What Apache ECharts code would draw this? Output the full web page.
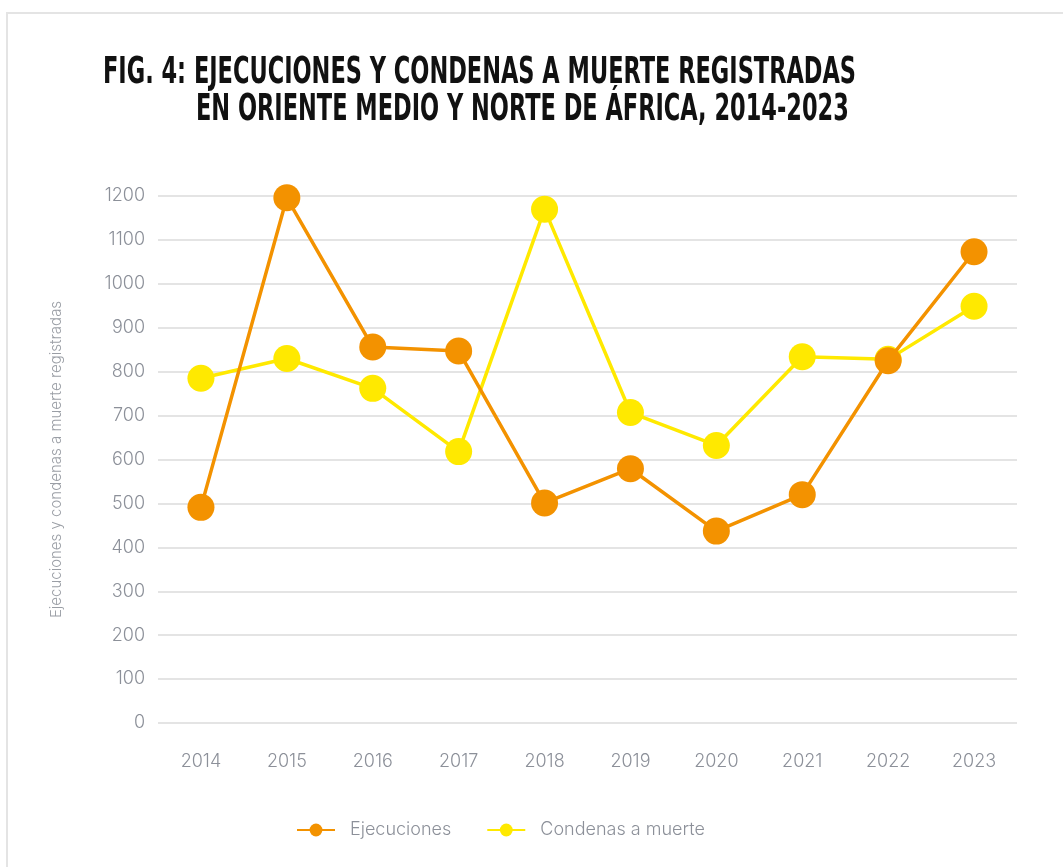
<!DOCTYPE html>
<html>
<head>
<meta charset="utf-8">
<script src="https://cdn.jsdelivr.net/npm/echarts@6/dist/echarts.min.js"></script>
<style>
  html, body { margin: 0; padding: 0; background: #fff; }
  #frame { position: absolute; left: 6px; top: 12px; width: 1100px; height: 900px; border: 2px solid #e4e4e4; }
  #chart { position: absolute; left: 0; top: 0; width: 1063px; height: 867px; }
</style>
</head>
<body>
<div id="frame"></div>
<div id="chart"></div>
<script>
// datos
const years = ['2014','2015','2016','2017','2018','2019','2020','2021','2022','2023']
const ejecuciones = [491, 1196, 856, 847, 501, 579, 437, 520, 825, 1073]
const condenas = [785, 830, 762, 618, 1170, 707, 632, 834, 828, 949]
const titulo1 = 'FIG. 4: EJECUCIONES Y CONDENAS A MUERTE REGISTRADAS'
const titulo2 = 'EN ORIENTE MEDIO Y NORTE DE ÁFRICA, 2014-2023'

window.addEventListener('DOMContentLoaded', () => {
    const chart = echarts.init(document.getElementById('chart'))
    const grey = '#8c9099'
    const font = 'Inter, Roboto, sans-serif'
    const titleFont = 'bold 37px "DejaVu Sans", sans-serif'

    const option = {
        graphic: [
            {
                type: 'text', x: 103, y: 55, scaleX: 0.607, originX: 0,
                style: { text: titulo1, font: titleFont, fill: '#111' }
            },
            {
                type: 'text', x: 196, y: 92, scaleX: 0.607, originX: 0,
                style: { text: titulo2, font: titleFont, fill: '#111' }
            }
        ],
        legend: {
            left: 296, top: 821, padding: 0,
            itemWidth: 38, itemHeight: 16, itemGap: 35,
            textStyle: { color: grey, fontSize: 18, fontFamily: font, fontWeight: 300, padding: [0, 0, 0, 10] },
            data: ['Ejecuciones', 'Condenas a muerte']
        },
        grid: { left: 158, right: 46, top: 196, bottom: 144 },
        xAxis: {
            type: 'category',
            data: years,
            axisLine: { show: false },
            axisTick: { show: false },
            axisLabel: { color: grey, fontSize: 18, margin: 30, fontFamily: font, fontWeight: 300 }
        },
        yAxis: {
            type: 'value',
            min: 0, max: 1200, interval: 100,
            name: 'Ejecuciones y condenas a muerte registradas',
            nameLocation: 'middle',
            nameGap: 94,
            nameTextStyle: { color: '#9a9ea5', fontSize: 15, fontFamily: font, fontWeight: 300 },
            axisLabel: { color: grey, fontSize: 18, margin: 13, fontFamily: font, fontWeight: 300, formatter: v => String(v) },
            splitLine: { lineStyle: { color: '#e4e4e4', width: 2 } }
        },
        series: [
            {
                name: 'Ejecuciones',
                type: 'line',
                data: ejecuciones,
                symbol: 'circle',
                symbolSize: 27,
                color: '#f39200',
                lineStyle: { width: 3.5 },
                z: 3
            },
            {
                name: 'Condenas a muerte',
                type: 'line',
                data: condenas,
                symbol: 'circle',
                symbolSize: 27,
                color: '#ffe900',
                lineStyle: { width: 3.5 },
                z: 2
            }
        ]
    }

    chart.setOption(option)
})
</script>
</body>
</html>
